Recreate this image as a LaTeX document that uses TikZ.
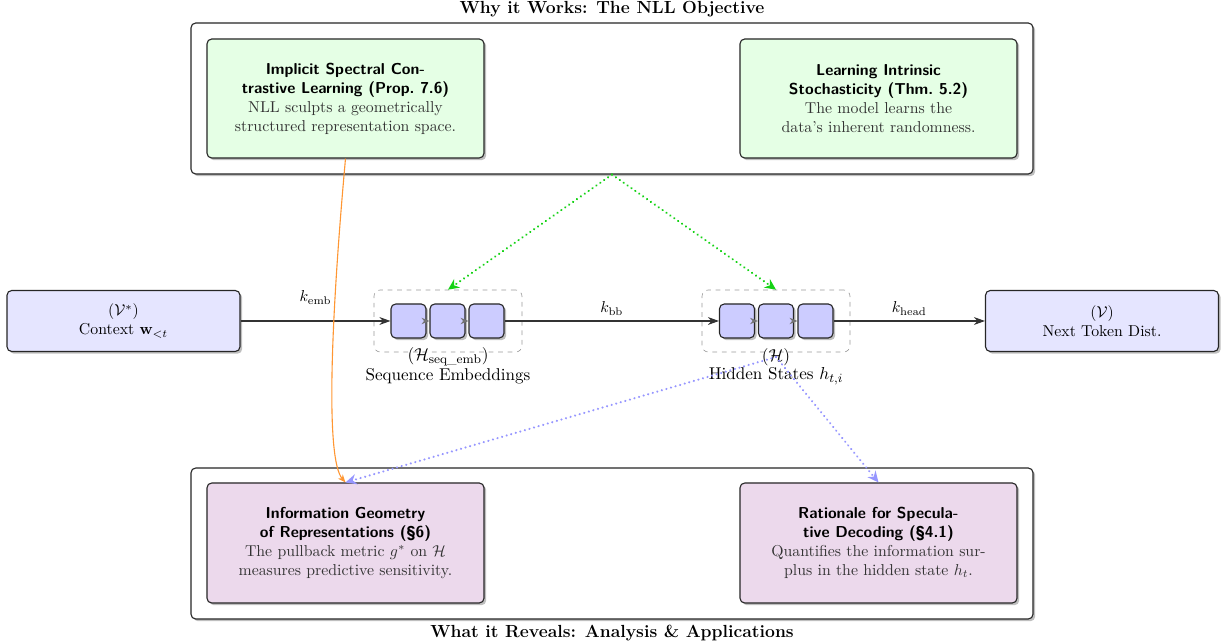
\documentclass[tikz,border=0pt]{standalone}
\usepackage{amsmath,amssymb}
\usetikzlibrary{arrows.meta,shadows}
\newcommand{\pxu}{0.633pt}
\definecolor{orangeline}{RGB}{255,150,50}
\definecolor{greenline}{RGB}{20,210,20}
\definecolor{blueline}{RGB}{150,150,255}
\newcommand{\hd}{\sffamily\bfseries}
\newcommand{\bd}{\normalfont\color{black!80}}
\begin{document}
\begin{tikzpicture}[x=0.633pt,y=-0.633pt,
  shad/.style={drop shadow={shadow xshift=1.4pt,shadow yshift=-1.4pt,opacity=0.5}},
  outerbox/.style={draw=black!85, line width=0.7pt, rounded corners=3pt, fill=white, shad,
    minimum width=842*\pxu, minimum height=151*\pxu},
  greenbox/.style={draw=black!85, line width=0.7pt, rounded corners=3pt, fill=green!10, shad,
    minimum width=277*\pxu, minimum height=119*\pxu, align=center},
  purplebox/.style={draw=black!85, line width=0.7pt, rounded corners=3pt, fill=violet!15, shad,
    minimum width=277*\pxu, minimum height=120*\pxu, align=center},
  iobox/.style={draw=black!85, line width=0.7pt, rounded corners=3pt, fill=blue!10, shad,
    minimum width=233*\pxu, minimum height=61*\pxu, align=center},
  blockbox/.style={draw=black!85, line width=0.7pt, rounded corners=3pt, fill=blue!20, shad,
    minimum width=35*\pxu, minimum height=34*\pxu, inner sep=0pt},
  groupbox/.style={draw=black!40, dashed, rounded corners=4pt,
    minimum width=148*\pxu, minimum height=62*\pxu},
  biglabel/.style={font=\fontsize{10.8}{13}\selectfont},
  titlelabel/.style={font=\fontsize{11.1}{13}\selectfont\bfseries},
  mainarrow/.style={draw=black!80, thick, -{Stealth[length=7pt,width=5pt]}},
  smallarrow/.style={draw=black!55, thick, -{Stealth[length=5pt,width=4pt]}},
  greenarrow/.style={draw=greenline, line width=1.5pt, line cap=round, dash pattern=on 0.01pt off 3pt, -{Stealth[length=7pt,width=6.5pt]}},
  bluearrow/.style={draw=blueline, line width=1.5pt, line cap=round, dash pattern=on 0.01pt off 3pt, -{Stealth[length=7pt,width=6.5pt]}},
  orangearrow/.style={draw=orangeline, line width=0.7pt, -{Stealth[length=5pt,width=4pt]}}
]
\useasboundingbox (0,0) rectangle (1225,642);

% outer boxes
\node[outerbox] (topbox) at (612,98.5) {};
\node[outerbox] (botbox) at (612,543.5) {};
\node[titlelabel] (ttop) at (612,9.5) {Why it Works: The NLL Objective};
\node[titlelabel] (tbot) at (612,633) {What it Reveals: Analysis \& Applications};

% green boxes
\node[greenbox] (g1) at (345.5,98.5) {\hd Implicit Spectral Con-\\\hd trastive Learning (Prop.~7.6)\\\bd NLL sculpts a geometrically\\\bd structured representation space.};
\node[greenbox] (g2) at (878.5,98.5) {\hd Learning Intrinsic\\\hd Stochasticity (Thm.~5.2)\\\bd The model learns the\\\bd data's inherent randomness.};

% purple boxes
\node[purplebox] (p1) at (345.5,543) {\hd Information Geometry\\\hd of Representations (\S6)\\\bd The pullback metric $g^*$ on $\mathcal{H}$\\\bd measures predictive sensitivity.};
\node[purplebox] (p2) at (878.5,543) {\hd Rationale for Specula-\\\hd tive Decoding (\S4.1)\\\bd Quantifies the information sur-\\\bd plus in the hidden state $h_t$.};

% middle row
\node[iobox] (ctx) at (123.5,321) {$(\mathcal{V}^*)$\\Context $\mathbf{w}_{<t}$};
\node[iobox] (nxt) at (1102,321) {$(\mathcal{V})$\\Next Token Dist.};

\node[groupbox] (dS) at (448,321) {};
\node[groupbox] (dH) at (776,321) {};

\node[blockbox] (b1) at (408.5,321) {};
\node[blockbox] (b2) at (447.5,321) {};
\node[blockbox] (b3) at (486.5,321) {};
\node[blockbox] (b4) at (737,321) {};
\node[blockbox] (b5) at (776,321) {};
\node[blockbox] (b6) at (815.5,321) {};

\node[biglabel] (slab) at (448,357) {$(\mathcal{H}_{\mathrm{seq\_emb}})$};
\node[biglabel] (sname) at (448,376.5) {Sequence Embeddings};
\node[biglabel] (hlab) at (776,357) {$(\mathcal{H})$};
\node[biglabel] (hname) at (776,376.5) {Hidden States $h_{t,i}$};

% connectors
\draw[smallarrow] (b1.east) -- (b2.west);
\draw[smallarrow] (b2.east) -- (b3.west);
\draw[smallarrow] (b4.east) -- (b5.west);
\draw[smallarrow] (b5.east) -- (b6.west);

\draw[mainarrow] (ctx.east) -- (b1.west) node[midway, above, yshift=7pt] {$k_{\mathrm{emb}}$};
\draw[mainarrow] (b3.east) -- (b4.west) node[midway, above] {$k_{\mathrm{bb}}$};
\draw[mainarrow] (b6.east) -- (nxt.west) node[midway, above] {$k_{\mathrm{head}}$};

\draw[greenarrow] (topbox.south) -- (dS.north);
\draw[greenarrow] (topbox.south) -- (dH.north);

\draw[bluearrow] (hlab.center) -- (p1.north);
\draw[bluearrow] (hlab.center) -- (p2.north);

\draw[orangearrow] (g1.south) .. controls (330,330) and (326,460) .. (p1.north);
\end{tikzpicture}
\end{document}
